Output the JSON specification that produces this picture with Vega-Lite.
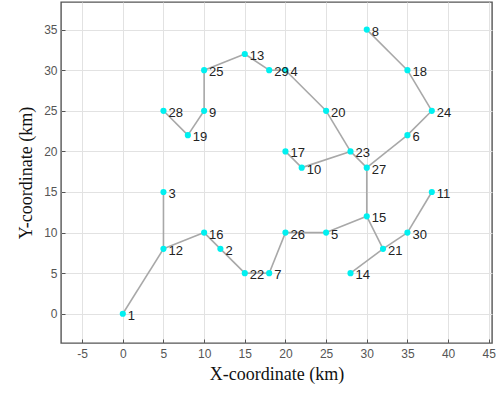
{
  "$schema": "https://vega.github.io/schema/vega-lite/v6.json",
  "width": 431,
  "height": 341,
  "autosize": "none",
  "padding": {"left": 61, "top": 2, "right": 8, "bottom": 53},
  "background": "white",
  "config": {
    "view": {"stroke": "#555555", "strokeWidth": 1.4},
    "axis": {
      "grid": true,
      "gridColor": "#e2e2e2",
      "gridWidth": 1,
      "domain": false,
      "tickColor": "#555555",
      "tickSize": -4,
      "labelFont": "Liberation Sans",
      "labelFontSize": 12,
      "labelColor": "#555555",
      "titleFont": "Liberation Serif",
      "titleFontSize": 18,
      "titleFontWeight": "normal",
      "titleColor": "#111111"
    }
  },
  "datasets": {
    "points": [
      {"id": "1", "x": 0, "y": 0},
      {"id": "2", "x": 12, "y": 8},
      {"id": "3", "x": 5, "y": 15},
      {"id": "4", "x": 20, "y": 30},
      {"id": "5", "x": 25, "y": 10},
      {"id": "6", "x": 35, "y": 22},
      {"id": "7", "x": 18, "y": 5},
      {"id": "8", "x": 30, "y": 35},
      {"id": "9", "x": 10, "y": 25},
      {"id": "10", "x": 22, "y": 18},
      {"id": "11", "x": 38, "y": 15},
      {"id": "12", "x": 5, "y": 8},
      {"id": "13", "x": 15, "y": 32},
      {"id": "14", "x": 28, "y": 5},
      {"id": "15", "x": 30, "y": 12},
      {"id": "16", "x": 10, "y": 10},
      {"id": "17", "x": 20, "y": 20},
      {"id": "18", "x": 35, "y": 30},
      {"id": "19", "x": 8, "y": 22},
      {"id": "20", "x": 25, "y": 25},
      {"id": "21", "x": 32, "y": 8},
      {"id": "22", "x": 15, "y": 5},
      {"id": "23", "x": 28, "y": 20},
      {"id": "24", "x": 38, "y": 25},
      {"id": "25", "x": 10, "y": 30},
      {"id": "26", "x": 20, "y": 10},
      {"id": "27", "x": 30, "y": 18},
      {"id": "28", "x": 5, "y": 25},
      {"id": "29", "x": 18, "y": 30},
      {"id": "30", "x": 35, "y": 10}
    ],
    "edges": [
      {"x": 0, "y": 0, "x2": 5, "y2": 8},
      {"x": 5, "y": 8, "x2": 5, "y2": 15},
      {"x": 5, "y": 8, "x2": 10, "y2": 10},
      {"x": 10, "y": 10, "x2": 12, "y2": 8},
      {"x": 12, "y": 8, "x2": 15, "y2": 5},
      {"x": 15, "y": 5, "x2": 18, "y2": 5},
      {"x": 18, "y": 5, "x2": 20, "y2": 10},
      {"x": 20, "y": 10, "x2": 25, "y2": 10},
      {"x": 25, "y": 10, "x2": 30, "y2": 12},
      {"x": 30, "y": 12, "x2": 32, "y2": 8},
      {"x": 32, "y": 8, "x2": 28, "y2": 5},
      {"x": 32, "y": 8, "x2": 35, "y2": 10},
      {"x": 35, "y": 10, "x2": 38, "y2": 15},
      {"x": 30, "y": 12, "x2": 30, "y2": 18},
      {"x": 30, "y": 18, "x2": 28, "y2": 20},
      {"x": 28, "y": 20, "x2": 22, "y2": 18},
      {"x": 22, "y": 18, "x2": 20, "y2": 20},
      {"x": 28, "y": 20, "x2": 25, "y2": 25},
      {"x": 25, "y": 25, "x2": 20, "y2": 30},
      {"x": 20, "y": 30, "x2": 18, "y2": 30},
      {"x": 18, "y": 30, "x2": 15, "y2": 32},
      {"x": 15, "y": 32, "x2": 10, "y2": 30},
      {"x": 10, "y": 30, "x2": 10, "y2": 25},
      {"x": 10, "y": 25, "x2": 8, "y2": 22},
      {"x": 8, "y": 22, "x2": 5, "y2": 25},
      {"x": 30, "y": 18, "x2": 35, "y2": 22},
      {"x": 35, "y": 22, "x2": 38, "y2": 25},
      {"x": 38, "y": 25, "x2": 35, "y2": 30},
      {"x": 35, "y": 30, "x2": 30, "y2": 35}
    ]
  },
  "layer": [
    {
      "data": {"name": "edges"},
      "mark": {"type": "rule", "color": "#a8a8a8", "strokeWidth": 1.6},
      "encoding": {
        "x": {
          "field": "x", "type": "quantitative",
          "scale": {"domain": [-7.6, 45.4], "nice": false, "zero": false},
          "axis": {"values": [-5, 0, 5, 10, 15, 20, 25, 30, 35, 40, 45], "labelExpr": "'' + datum.value", "title": "X-coordinate (km)", "labelPadding": 9, "titlePadding": 6}
        },
        "y": {
          "field": "y", "type": "quantitative",
          "scale": {"domain": [-3.6, 38.4], "nice": false, "zero": false},
          "axis": {"values": [0, 5, 10, 15, 20, 25, 30, 35], "title": "Y-coordinate (km)", "labelPadding": 8, "titlePadding": 8}
        },
        "x2": {"field": "x2"},
        "y2": {"field": "y2"}
      }
    },
    {
      "data": {"name": "points"},
      "mark": {"type": "circle", "color": "#00f0f0", "opacity": 1, "size": 38},
      "encoding": {
        "x": {"field": "x", "type": "quantitative"},
        "y": {"field": "y", "type": "quantitative"}
      }
    },
    {
      "data": {"name": "points"},
      "mark": {"type": "text", "align": "left", "baseline": "middle", "dx": 5, "dy": 2, "font": "Liberation Sans", "fontSize": 13, "color": "#222222"},
      "encoding": {
        "x": {"field": "x", "type": "quantitative"},
        "y": {"field": "y", "type": "quantitative"},
        "text": {"field": "id"}
      }
    }
  ]
}
